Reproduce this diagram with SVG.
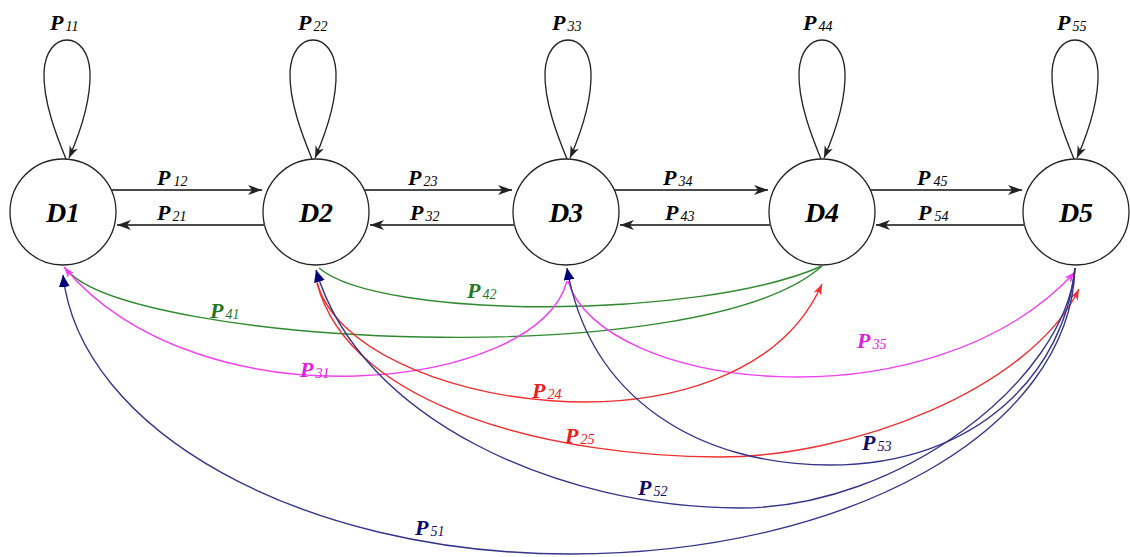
<svg xmlns="http://www.w3.org/2000/svg" width="1130" height="557" viewBox="0 0 1130 557">
<style>
.nc{fill:#fff;stroke:#222;stroke-width:1.3}
.nl{font-family:"Liberation Serif",serif;font-weight:bold;font-style:italic;font-size:28px;text-anchor:middle;fill:#000}
.p{font-family:"Liberation Serif",serif;font-weight:bold;font-style:italic;font-size:22px;fill:#000}
.s{font-weight:normal;font-size:14px}
.h{stroke:#4a4a4a;stroke-width:2.2;fill:none;marker-end:url(#ab)}
.lp{stroke:#222;stroke-width:1.3;fill:none;marker-end:url(#al)}
.g{stroke:#2f8a2f;stroke-width:1.4;fill:none}
.m{stroke:#f040f0;stroke-width:1.4;fill:none;marker-end:url(#am)}
.r{stroke:#f03030;stroke-width:1.4;fill:none;marker-end:url(#ar)}
.n{stroke:#343488;stroke-width:1.4;fill:none;marker-end:url(#an)}
.tg{fill:#1f7a1f}.tm{fill:#e020e0}.tr{fill:#e82020}.tn{fill:#0a0a6a}
</style>
<defs>
<marker id="ab" markerUnits="userSpaceOnUse" markerWidth="16" markerHeight="10" refX="14" refY="5" orient="auto"><path d="M0,0 L14,5 L0,10 L4,5 Z" fill="#222"/></marker>
<marker id="al" markerUnits="userSpaceOnUse" markerWidth="14" markerHeight="10" refX="12" refY="4.5" orient="auto"><path d="M0,0 L12,4.5 L0,9 L3.5,4.5 Z" fill="#222"/></marker>
<marker id="am" markerUnits="userSpaceOnUse" markerWidth="12" markerHeight="9" refX="11" refY="4" orient="auto"><path d="M0,0 L11,4 L0,8 L3,4 Z" fill="#f040f0"/></marker>
<marker id="ar" markerUnits="userSpaceOnUse" markerWidth="12" markerHeight="9" refX="11" refY="4" orient="auto"><path d="M0,0 L11,4 L0,8 L3,4 Z" fill="#f03030"/></marker>
<marker id="an" markerUnits="userSpaceOnUse" markerWidth="13" markerHeight="12" refX="12" refY="5.5" orient="auto"><path d="M0,0 L12,5.5 L0,11 Z" fill="#00007a"/></marker>
</defs>
<g id="nodes">
<g id="D1"><circle class="nc" cx="63" cy="212" r="53"/><text class="nl" x="63" y="222">D1</text></g>
<g id="D2"><circle class="nc" cx="316" cy="212" r="53"/><text class="nl" x="316" y="222">D2</text></g>
<g id="D3"><circle class="nc" cx="566" cy="212" r="53"/><text class="nl" x="566" y="222">D3</text></g>
<g id="D4"><circle class="nc" cx="822" cy="212" r="53"/><text class="nl" x="822" y="222">D4</text></g>
<g id="D5"><circle class="nc" cx="1076" cy="212" r="53"/><text class="nl" x="1076" y="222">D5</text></g>
</g>
<g id="connectors">
<path class="lp" d="M66 159 C57 137,43 102,44 72 C45 52,55 40,67 40 C79 40,89 52,90 72 C91 102,79 135,69 158"/>
<path class="lp" d="M312 159 C303 137,289 102,290 72 C291 52,301 40,313 40 C325 40,335 52,336 72 C337 102,325 135,315 158"/>
<path class="lp" d="M567 159 C558 137,544 102,545 72 C546 52,556 40,568 40 C580 40,590 52,591 72 C592 102,580 135,570 158"/>
<path class="lp" d="M821 159 C812 137,798 102,799 72 C800 52,810 40,822 40 C834 40,844 52,845 72 C846 102,834 135,824 158"/>
<path class="lp" d="M1074 159 C1065 137,1051 102,1052 72 C1053 52,1063 40,1075 40 C1087 40,1097 52,1098 72 C1099 102,1087 135,1077 158"/>
<text class="p" x="50" y="30">P<tspan class="s" dx="2" dy="1">11</tspan></text>
<text class="p" x="298" y="30">P<tspan class="s" dx="2" dy="1">22</tspan></text>
<text class="p" x="552" y="30">P<tspan class="s" dx="2" dy="1">33</tspan></text>
<text class="p" x="803" y="30">P<tspan class="s" dx="2" dy="1">44</tspan></text>
<text class="p" x="1057" y="30">P<tspan class="s" dx="2" dy="1">55</tspan></text>

<path class="h" d="M112 190 L262 190"/>
<path class="h" d="M265 225 L117 225"/>
<path class="h" d="M365 190 L512 190"/>
<path class="h" d="M515 225 L370 225"/>
<path class="h" d="M615 190 L768 190"/>
<path class="h" d="M771 225 L620 225"/>
<path class="h" d="M871 190 L1022 190"/>
<path class="h" d="M1025 225 L876 225"/>
<text class="p" x="157" y="185">P<tspan class="s" dx="3" dy="1">12</tspan></text>
<text class="p" x="157" y="220">P<tspan class="s" dx="2" dy="1">21</tspan></text>
<text class="p" x="408" y="185">P<tspan class="s" dx="2" dy="1">23</tspan></text>
<text class="p" x="410" y="220">P<tspan class="s" dx="2" dy="1">32</tspan></text>
<text class="p" x="663" y="185">P<tspan class="s" dx="2" dy="1">34</tspan></text>
<text class="p" x="665" y="220">P<tspan class="s" dx="2" dy="1">43</tspan></text>
<text class="p" x="917" y="185">P<tspan class="s" dx="3" dy="1">45</tspan></text>
<text class="p" x="918" y="220">P<tspan class="s" dx="3" dy="1">54</tspan></text>

<path class="g" d="M67 270 C130 345,700 375,822 266"/>
<path class="g" d="M319 268 C380 320,700 320,822 266"/>
<path class="m" d="M567 281 C540 390,200 430,64 267"/>
<path class="m" d="M568 281 C600 390,930 430,1075 272"/>
<path class="r" d="M317 282 C350 410,740 470,822 284"/>
<path class="r" d="M317 283 C350 410,560 457,720 457 C850 457,1030 390,1079 289"/>
<path class="n" d="M1075 268 C1065 370,980 465,830 465 C700 465,590 400,567 268"/>
<path class="n" d="M1075 268 C1065 380,900 508,740 508 C560 508,360 420,316 270"/>
<path class="n" d="M1075 268 C1070 430,850 554,570 554 C300 554,80 430,63 275"/>
<text class="p tg" x="210" y="318">P<tspan class="s" dx="2" dy="1">41</tspan></text>
<text class="p tg" x="467" y="298">P<tspan class="s" dx="2" dy="1">42</tspan></text>
<text class="p tm" x="300" y="377">P<tspan class="s" dx="2" dy="1">31</tspan></text>
<text class="p tm" x="857" y="348">P<tspan class="s" dx="2" dy="1">35</tspan></text>
<text class="p tr" x="532" y="398">P<tspan class="s" dx="2" dy="1">24</tspan></text>
<text class="p tr" x="565" y="443">P<tspan class="s" dx="2" dy="1">25</tspan></text>
<text class="p tn" x="862" y="450">P<tspan class="s" dx="2" dy="1">53</tspan></text>
<text class="p tn" x="638" y="495">P<tspan class="s" dx="2" dy="1">52</tspan></text>
<text class="p tn" x="415" y="535">P<tspan class="s" dx="2" dy="1">51</tspan></text>
</g>
</svg>
